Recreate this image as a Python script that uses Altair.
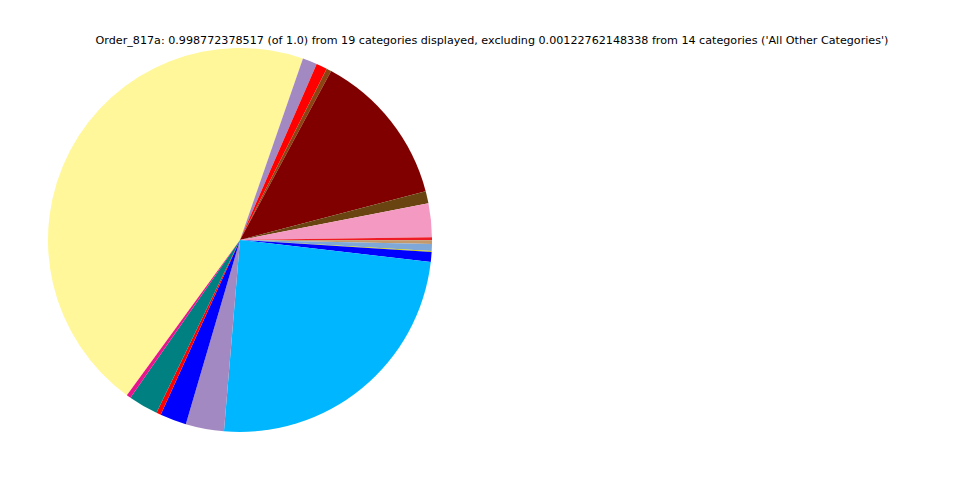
import math
import altair as alt
import pandas as pd

# slices in clockwise order, starting at the end of the big yellow slice (angles in degrees)
categories = ["Cat_A", "Cat_B", "Cat_C", "Cat_D", "Cat_E", "Cat_F", "Cat_G", "Cat_H",
              "Cat_I", "Cat_J", "Cat_K", "Cat_L", "Cat_M", "Cat_N", "Cat_O", "Cat_P",
              "Cat_Q", "Cat_R", "Cat_S"]
values = [163.0, 4.4, 3.3, 1.5, 46.9, 3.7, 10.2, 0.9, 1.1, 0.05, 2.1, 0.25, 3.0,
          88.2, 11.6, 8.0, 1.4, 9.0, 1.3]
colors = ["#FFF799", "#A389C1", "#FF0000", "#8B4513", "#800000", "#6A4410", "#F49AC2",
          "#EE1C25", "#C49A6C", "#9ACD32", "#7FA7D8", "#CCCC00", "#0000FF",
          "#00B7FF", "#A389C1", "#0000FF", "#FF0000", "#008080", "#E7158C"]

title_text = ("Order_817a: 0.998772378517 (of 1.0) from 19 categories displayed, "
              "excluding 0.00122762148338 from 14 categories ('All Other Categories')")

df = pd.DataFrame({"cat": categories, "value": values, "color": colors,
                   "idx": list(range(len(categories)))})

start = math.radians(216.1)

pie = alt.Chart(df).mark_arc(radius=192).encode(
    theta=alt.Theta("value:Q", stack=True,
                    scale=alt.Scale(range=[start, start + 2 * math.pi])),
    color=alt.Color("color:N", scale=None),
    order=alt.Order("idx:Q"),
    x=alt.value(232),
    y=alt.value(232),
)

title = alt.Chart(pd.DataFrame({"t": [title_text]})).mark_text(
    font="DejaVu Sans", fontSize=11.15, color="#000000", align="center", baseline="middle"
).encode(
    text="t:N",
    x=alt.value(484),
    y=alt.value(32.5),
)

chart = alt.layer(pie, title).properties(
    width=944, height=464, autosize=alt.AutoSizeParams(type="none"), padding=0
).configure_view(stroke=None)

chart.save("out.html", embed_options={"renderer": "svg", "actions": False})
